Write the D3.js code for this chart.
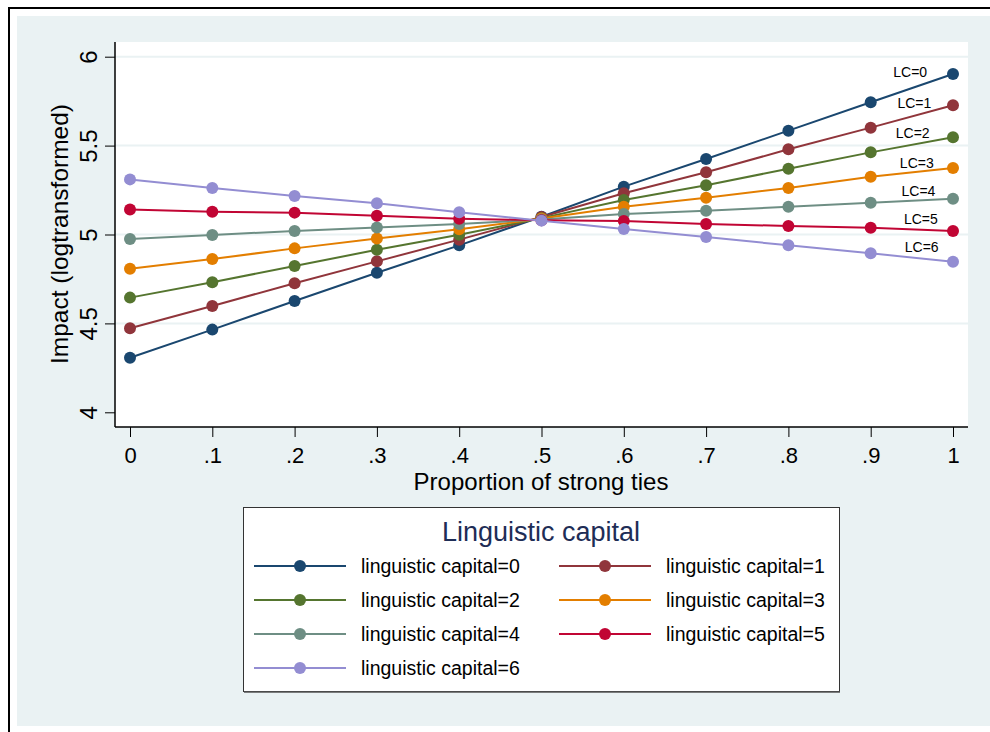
<!DOCTYPE html>
<html>
<head>
<meta charset="utf-8">
<script src="https://cdn.jsdelivr.net/npm/d3@7"></script>
<style>
  body { margin: 0; background: #fff; }
  svg text { font-family: "Liberation Sans", Arial, sans-serif; }
</style>
</head>
<body>
<div id="chart"></div>
<script>
// Proportion of strong ties (x values)
var props = [0, .1, .2, .3, .4, .5, .6, .7, .8, .9, 1];
var xTickLabels = ["0", ".1", ".2", ".3", ".4", ".5", ".6", ".7", ".8", ".9", "1"];
var yTicks = [4, 4.5, 5, 5.5, 6];

// Predicted impact per linguistic capital level
var lc0 = [4.307, 4.465, 4.626, 4.785, 4.939, 5.100, 5.269, 5.425, 5.584, 5.744, 5.903];
var lc1 = [4.473, 4.598, 4.726, 4.849, 4.971, 5.098, 5.232, 5.350, 5.479, 5.601, 5.727];
var lc2 = [4.645, 4.731, 4.823, 4.914, 4.999, 5.092, 5.194, 5.277, 5.370, 5.462, 5.547];
var lc3 = [4.808, 4.862, 4.922, 4.978, 5.029, 5.090, 5.156, 5.207, 5.262, 5.325, 5.374];
var lc4 = [4.975, 4.997, 5.020, 5.040, 5.059, 5.085, 5.115, 5.134, 5.156, 5.179, 5.201];
var lc5 = [5.141, 5.128, 5.123, 5.106, 5.089, 5.080, 5.076, 5.059, 5.048, 5.038, 5.020];
var lc6 = [5.310, 5.262, 5.217, 5.176, 5.125, 5.078, 5.031, 4.986, 4.939, 4.894, 4.847];

var seriesNames = ["linguistic capital=0", "linguistic capital=1", "linguistic capital=2",
  "linguistic capital=3", "linguistic capital=4", "linguistic capital=5", "linguistic capital=6"];
var colors = ["#1a476f", "#90353b", "#55752f", "#e37e00", "#6e8e84", "#c10534", "#938dd2"];

// "LC=k" text labels placed near the right end (data units)
var lcLabels = ["LC=0", "LC=1", "LC=2", "LC=3", "LC=4", "LC=5", "LC=6"];
var lcLabelX = [0.948, 0.953, 0.951, 0.956, 0.958, 0.961, 0.962];
var lcLabelY = [5.914, 5.740, 5.571, 5.402, 5.245, 5.087, 4.930];

var allSeries = [lc0, lc1, lc2, lc3, lc4, lc5, lc6];

var W = 990, H = 732;
var svg = d3.select("#chart").append("svg")
    .attr("width", W)
    .attr("height", H);

// Graph region background + outer frame
svg.append("rect")
    .attr("x", 17).attr("y", 16)
    .attr("width", W - 17).attr("height", 726 - 16)
    .attr("fill", "#eaf2f3");
svg.append("path")
    .attr("d", "M9,732 V8 H990")
    .attr("fill", "none")
    .attr("stroke", "#000")
    .attr("stroke-width", 2);

// Plot region
var plot = { left: 115, top: 42, right: 968, bottom: 427 };
svg.append("rect")
    .attr("x", plot.left).attr("y", plot.top)
    .attr("width", plot.right - plot.left)
    .attr("height", plot.bottom - plot.top)
    .attr("fill", "#fff");

var x = d3.scaleLinear().domain([0, 1]).range([130, 953]);
var y = d3.scaleLinear().domain([4, 6]).range([412.3, 56.7]);

// Gridlines
svg.selectAll(".grid")
    .data(yTicks.filter(function(d) { return d > 4; }))
    .enter().append("line")
    .attr("x1", plot.left).attr("x2", plot.right)
    .attr("y1", function(d) { return y(d); })
    .attr("y2", function(d) { return y(d); })
    .attr("stroke", "#eaf2f3")
    .attr("stroke-width", 2);

// Y axis
var yAxis = svg.append("g")
    .attr("transform", "translate(" + plot.left + ",0)")
    .call(d3.axisLeft(y).tickValues(yTicks).tickSize(10).tickFormat(d3.format("")));
yAxis.select(".domain").remove();
yAxis.append("line")
    .attr("x1", 0).attr("x2", 0)
    .attr("y1", plot.top).attr("y2", plot.bottom)
    .attr("stroke", "#000").attr("stroke-width", 1.5);
yAxis.selectAll(".tick line").attr("stroke", "#000").attr("stroke-width", 1);
yAxis.selectAll(".tick text")
    .attr("x", null).attr("dy", null)
    .attr("transform", "translate(-18,0) rotate(-90)")
    .attr("text-anchor", "middle")
    .attr("fill", "#000")
    .style("font-size", "24px");

// X axis
var xAxis = svg.append("g")
    .attr("transform", "translate(0," + plot.bottom + ")")
    .call(d3.axisBottom(x).tickValues(props).tickSize(10)
        .tickFormat(function(d, i) { return xTickLabels[i]; }));
xAxis.select(".domain").remove();
xAxis.append("line")
    .attr("x1", plot.left).attr("x2", plot.right)
    .attr("y1", 0).attr("y2", 0)
    .attr("stroke", "#000").attr("stroke-width", 1.5);
xAxis.selectAll(".tick line").attr("stroke", "#000").attr("stroke-width", 1);
xAxis.selectAll(".tick text")
    .attr("y", 36).attr("dy", null)
    .attr("fill", "#000")
    .style("font-size", "22px");

// Axis titles
svg.append("text")
    .attr("transform", "translate(68,234) rotate(-90)")
    .attr("text-anchor", "middle")
    .style("font-size", "24.5px")
    .text("Impact (logtransformed)");
svg.append("text")
    .attr("x", 541).attr("y", 490)
    .attr("text-anchor", "middle")
    .style("font-size", "24px")
    .text("Proportion of strong ties");

// Lines and markers
var line = d3.line()
    .x(function(d, i) { return x(props[i]); })
    .y(function(d) { return y(d); });

allSeries.forEach(function(vals, k) {
    var g = svg.append("g");
    g.append("path")
        .attr("d", line(vals))
        .attr("fill", "none")
        .attr("stroke", colors[k])
        .attr("stroke-width", 2);
    g.selectAll("circle")
        .data(vals)
        .enter().append("circle")
        .attr("cx", function(d, i) { return x(props[i]); })
        .attr("cy", function(d) { return y(d); })
        .attr("r", 6)
        .attr("fill", colors[k]);
});

// LC labels
svg.selectAll(".lc-label")
    .data(lcLabels)
    .enter().append("text")
    .attr("class", "lc-label")
    .attr("x", function(d, i) { return x(lcLabelX[i]); })
    .attr("y", function(d, i) { return y(lcLabelY[i]) + 5; })
    .attr("text-anchor", "middle")
    .style("font-size", "14px")
    .text(function(d) { return d; });

// Legend
var legend = svg.append("g");
legend.append("rect")
    .attr("x", 243.5).attr("y", 507.5)
    .attr("width", 596).attr("height", 184)
    .attr("fill", "#fff")
    .attr("stroke", "#333")
    .attr("stroke-width", 1);
legend.append("line")
    .attr("x1", 244).attr("x2", 840)
    .attr("y1", 692).attr("y2", 692)
    .attr("stroke", "#555").attr("stroke-width", 1.5);
legend.append("text")
    .attr("x", 541).attr("y", 541)
    .attr("text-anchor", "middle")
    .attr("fill", "#1e2d56")
    .style("font-size", "27px")
    .text("Linguistic capital");

var colX = [254, 559];
var rowY = [566, 600, 634, 668];
seriesNames.forEach(function(name, k) {
    var cx = colX[k % 2], cy = rowY[Math.floor(k / 2)];
    var item = legend.append("g");
    item.append("line")
        .attr("x1", cx).attr("x2", cx + 92)
        .attr("y1", cy).attr("y2", cy)
        .attr("stroke", colors[k]).attr("stroke-width", 2);
    item.append("circle")
        .attr("cx", cx + 46).attr("cy", cy)
        .attr("r", 6)
        .attr("fill", colors[k]);
    item.append("text")
        .attr("x", cx + 107).attr("y", cy + 7)
        .style("font-size", "19.5px")
        .text(name);
});
</script>
</body>
</html>
